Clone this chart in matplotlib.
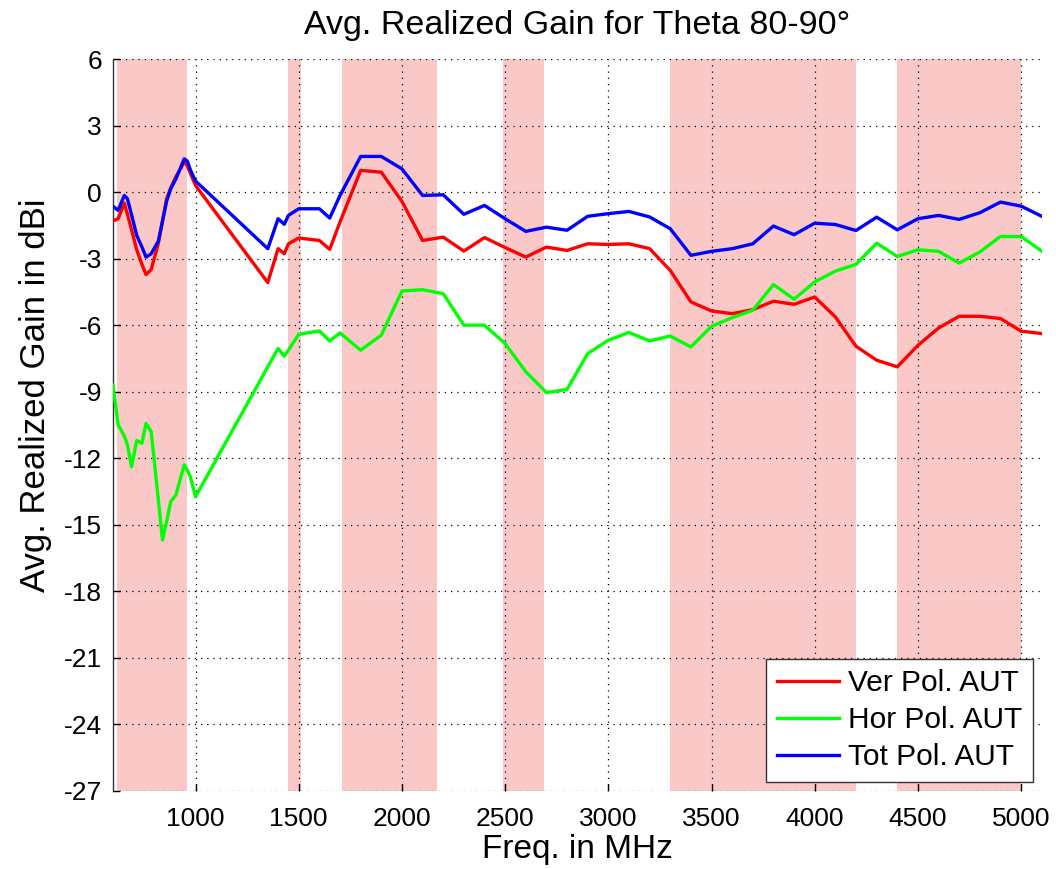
import matplotlib
matplotlib.use("Agg")
import matplotlib.pyplot as plt

plt.rcParams['font.family'] = ['Liberation Sans', 'DejaVu Sans']
plt.rcParams['axes.unicode_minus'] = False

freq = [600, 625, 655, 670, 690, 715, 740, 760, 785, 820, 840, 860, 880, 905, 945, 960, 975, 1000,
        1350, 1400, 1430, 1450, 1500, 1600, 1650, 1700, 1800, 1900, 2000, 2100, 2200, 2300, 2400,
        2500, 2600, 2700, 2800, 2900, 3000, 3100, 3200, 3300, 3400, 3500, 3600, 3700, 3800, 3900,
        4000, 4100, 4200, 4300, 4400, 4500, 4600, 4700, 4800, 4900, 5000, 5100]

ver_pol = [-1.3, -1.2, -0.5, -1.0, -1.7, -2.6, -3.25, -3.72, -3.5, -2.3, -1.3, -0.3, 0.2, 0.7, 1.35, 1.2, 0.85, 0.3,
           -4.08, -2.55, -2.78, -2.33, -2.07, -2.18, -2.58, -1.35, 0.98, 0.9, -0.42, -2.18, -2.03, -2.66, -2.05,
           -2.5, -2.93, -2.48, -2.63, -2.33, -2.36, -2.33, -2.55, -3.53, -4.95, -5.36, -5.48, -5.3, -4.92, -5.06,
           -4.73, -5.63, -6.95, -7.58, -7.88, -6.91, -6.13, -5.6, -5.6, -5.7, -6.27, -6.38]

hor_pol = [-8.7, -10.5, -11.0, -11.4, -12.39, -11.2, -11.33, -10.43, -10.8, -13.9, -15.69, -14.85, -13.95, -13.66, -12.3, -12.55, -12.84, -13.74,
           -7.88, -7.05, -7.4, -7.13, -6.41, -6.26, -6.71, -6.35, -7.13, -6.45, -4.46, -4.4, -4.58, -6.0, -6.0,
           -6.83, -8.1, -9.04, -8.9, -7.28, -6.68, -6.33, -6.71, -6.49, -6.98, -6.05, -5.66, -5.33, -4.17, -4.83,
           -4.05, -3.56, -3.26, -2.30, -2.90, -2.60, -2.67, -3.2, -2.70, -2.0, -2.0, -2.66]

tot_pol = [-0.64, -0.82, -0.15, -0.3, -1.03, -1.95, -2.47, -2.93, -2.78, -2.2, -1.3, -0.4, 0.15, 0.6, 1.5, 1.4, 1.0, 0.5,
           -2.55, -1.2, -1.45, -1.05, -0.75, -0.75, -1.17, -0.15, 1.61, 1.61, 1.05, -0.15, -0.12, -1.0, -0.6,
           -1.2, -1.77, -1.58, -1.72, -1.09, -0.97, -0.87, -1.12, -1.65, -2.85, -2.67, -2.55, -2.33, -1.53, -1.92,
           -1.40, -1.46, -1.73, -1.13, -1.70, -1.20, -1.05, -1.23, -0.93, -0.45, -0.63, -1.09]

band_start = [620, 1450, 1710, 2490, 3300, 4400]
band_end = [960, 1510, 2170, 2690, 4200, 5000]

x_ticks = [1000, 1500, 2000, 2500, 3000, 3500, 4000, 4500, 5000]
y_ticks = list(range(-27, 7, 3))

fig = plt.figure(figsize=(10.56, 8.69), dpi=100)
ax = fig.add_axes([0.107, 0.090, 0.8795, 0.842])

for s, e in zip(band_start, band_end):
    ax.axvspan(s, e, color='#FBC8C8', lw=0, zorder=1)

ax.plot(freq, ver_pol, color='#FF0000', lw=2.4, label='Ver Pol. AUT', zorder=3)
ax.plot(freq, hor_pol, color='#00FF00', lw=2.4, label='Hor Pol. AUT', zorder=3)
ax.plot(freq, tot_pol, color='#0000FF', lw=2.4, label='Tot Pol. AUT', zorder=3)

ax.set_xlim(600, 5100)
ax.set_ylim(-27, 6)
ax.set_xticks(x_ticks)
ax.set_yticks(y_ticks)
ax.set_axisbelow('line')
ax.grid(True, color='black', linestyle=(0, (1, 4)), linewidth=0.9)

for sp in ['top', 'right', 'bottom']:
    ax.spines[sp].set_visible(False)
ax.spines['left'].set_color('#333333')
ax.spines['left'].set_linewidth(1.0)
ax.tick_params(axis='both', direction='in', length=5, width=1, labelsize=19, colors='black')
ax.tick_params(axis='x', pad=12)
ax.tick_params(axis='y', pad=8)

ax.set_title('Avg. Realized Gain for Theta 80-90°', fontsize=24.5, pad=18)
ax.set_xlabel('Freq. in MHz', fontsize=24, labelpad=2)
ax.set_ylabel('Avg. Realized Gain in dBi', fontsize=25)
ax.yaxis.set_label_coords(-0.066, 0.541)

leg = ax.legend(loc='lower right', fontsize=21.5, frameon=True, fancybox=False,
                edgecolor='#333333', framealpha=1.0, handlelength=2.1, borderpad=0.35,
                labelspacing=0.3, handletextpad=0.3, borderaxespad=0.3)
leg.get_frame().set_linewidth(1.0)

fig.savefig('out.png', dpi=100)
